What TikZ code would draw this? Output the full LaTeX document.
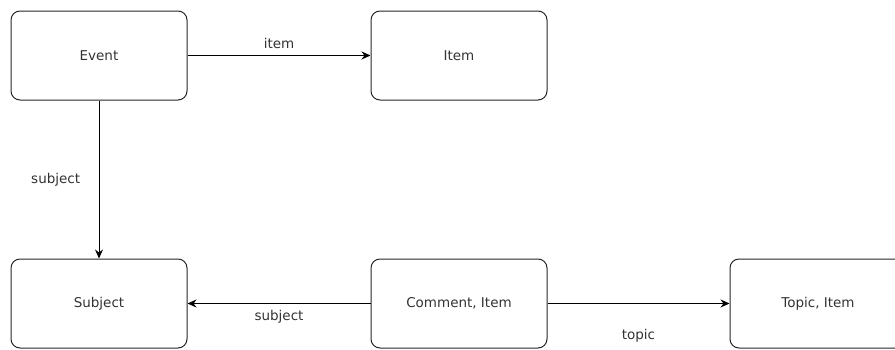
\documentclass[tikz,border=0pt]{standalone}
\usepackage{fontspec}
\setmainfont{DejaVu Sans}
\usetikzlibrary{positioning, arrows.meta}

\tikzset{
	box/.style = {draw=black!85, line width=1pt, rounded corners=9pt,
		minimum width=176pt, minimum height=89pt, inner sep=0pt,
		font=\fontsize{13.5}{16}\selectfont, text=black!80},
	link/.style = {draw=black, line width=1pt, -{Stealth[length=9pt, width=8pt]}},
	lbl/.style = {font=\fontsize{13.5}{16}\selectfont, text=black!80},
}

\begin{document}
\begin{tikzpicture}[x=1pt, y=-1pt, node distance=158pt and 183pt]
	\useasboundingbox (0,0) rectangle (895,349);
	
	\node [box] (event) at (99, 55.5) {Event};
	\node [box, right=of event] (item) {Item};
	\node [box, below=of event] (subject) {Subject};
	\node [box, right=of subject] (comment) {Comment, Item};
	\node [box, right=182pt of comment] (topic) {Topic, Item};
	
	\draw [link] (event) -- node [lbl, above=3pt] {item} (item);
	\draw [link] (event) -- node [lbl, left=15pt] {subject} (subject);
	\draw [link] (comment) -- node [lbl, below=3pt] {subject} (subject);
	\draw [link] (comment) -- node [lbl, below=22pt] {topic} (topic);
\end{tikzpicture}
\end{document}
